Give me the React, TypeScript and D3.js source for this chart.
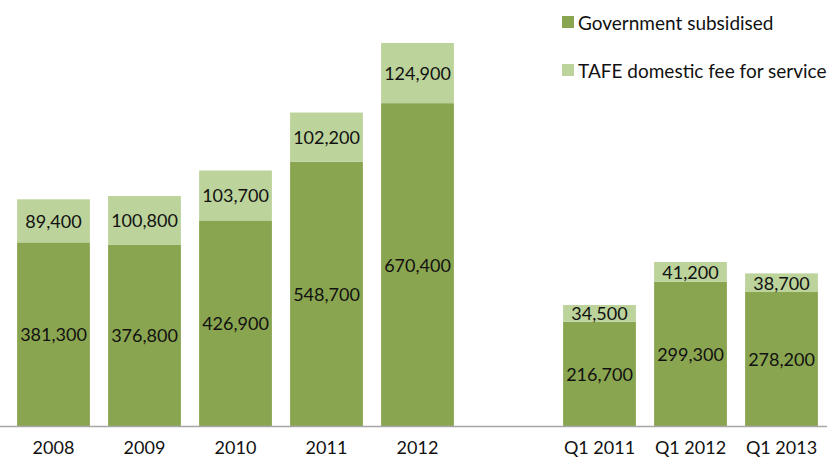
import React, { useEffect, useRef } from 'react';
import * as d3 from 'd3';

const categories = ['2008', '2009', '2010', '2011', '2012', '', 'Q1 2011', 'Q1 2012', 'Q1 2013'];
const govSubsidised = [381300, 376800, 426900, 548700, 670400, null, 216700, 299300, 278200];
const tafeFeeForService = [89400, 100800, 103700, 102200, 124900, null, 34500, 41200, 38700];
const seriesNames = ['Government subsidised', 'TAFE domestic fee for service'];

const colors = ['#8AA550', '#BCD39B'];
const font = 'Lato, "Open Sans", sans-serif';

function draw(node: SVGSVGElement) {
  const svg = d3.select(node);
  svg.selectAll('*').remove();

  const x = d3.scaleBand()
              .domain(categories.map((c, i) => String(i)))
              .range([8, 827])
              .paddingInner(0.2)
              .paddingOuter(0.1);

  const y = d3.scaleLinear()
              .domain([0, 795300])
              .range([426, 43]);

  const rows = categories.map((c, i) => ({
    key: String(i),
    label: c,
    gov: govSubsidised[i],
    fee: tafeFeeForService[i]
  })).filter(d => d.gov != null);

  const fmt = d3.format(',');

  const g = svg.append('g');

  // bottom segments
  g.selectAll('rect.gov')
   .data(rows)
   .join('rect')
   .attr('class', 'gov')
   .attr('x', d => x(d.key)!)
   .attr('width', x.bandwidth())
   .attr('y', d => y(d.gov!))
   .attr('height', d => y(0) - y(d.gov!))
   .attr('fill', colors[0]);

  // top segments
  g.selectAll('rect.fee')
   .data(rows)
   .join('rect')
   .attr('class', 'fee')
   .attr('x', d => x(d.key)!)
   .attr('width', x.bandwidth())
   .attr('y', d => y(d.gov! + d.fee!))
   .attr('height', d => y(d.gov!) - y(d.gov! + d.fee!))
   .attr('fill', colors[1]);

  const labelStyle = (sel: any) => sel
    .attr('text-anchor', 'middle')
    .attr('dominant-baseline', 'central')
    .attr('font-family', font)
    .attr('font-size', 18)
    .attr('fill', '#111');

  g.selectAll('text.govLabel')
   .data(rows)
   .join('text')
   .attr('class', 'govLabel')
   .attr('x', d => x(d.key)! + x.bandwidth() / 2)
   .attr('y', d => (y(0) + y(d.gov!)) / 2)
   .text(d => fmt(d.gov!))
   .call(labelStyle);

  g.selectAll('text.feeLabel')
   .data(rows)
   .join('text')
   .attr('class', 'feeLabel')
   .attr('x', d => x(d.key)! + x.bandwidth() / 2)
   .attr('y', d => (y(d.gov!) + y(d.gov! + d.fee!)) / 2)
   .text(d => fmt(d.fee!))
   .call(labelStyle);

  // x axis line, no ticks
  svg.append('line')
     .attr('x1', 0).attr('x2', 827)
     .attr('y1', y(0) + 0.5).attr('y2', y(0) + 0.5)
     .attr('stroke', '#A6A6A6')
     .attr('stroke-width', 1.5);

  svg.append('g')
     .selectAll('text')
     .data(rows)
     .join('text')
     .attr('x', d => x(d.key)! + x.bandwidth() / 2)
     .attr('y', 447)
     .text(d => d.label)
     .call(labelStyle);

  // legend
  const legend = svg.append('g').attr('transform', 'translate(562, 0)');
  seriesNames.forEach((name, i) => {
    const cy = 22 + i * 48;
    legend.append('rect')
          .attr('x', 0).attr('y', cy - 6)
          .attr('width', 12).attr('height', 12)
          .attr('fill', colors[i]);
    legend.append('text')
          .attr('x', 16).attr('y', cy)
          .attr('dominant-baseline', 'central')
          .attr('font-family', font)
          .attr('font-size', 19)
          .attr('fill', '#111')
          .text(name);
  });
}

export default function App() {
  const ref = useRef<SVGSVGElement>(null);
  useEffect(() => {
    if (ref.current) draw(ref.current);
  }, []);
  return (
    <svg ref={ref} width={837} height={465}
         style={{ position: 'absolute', left: 0, top: 0, background: '#fff' }} />
  );
}
